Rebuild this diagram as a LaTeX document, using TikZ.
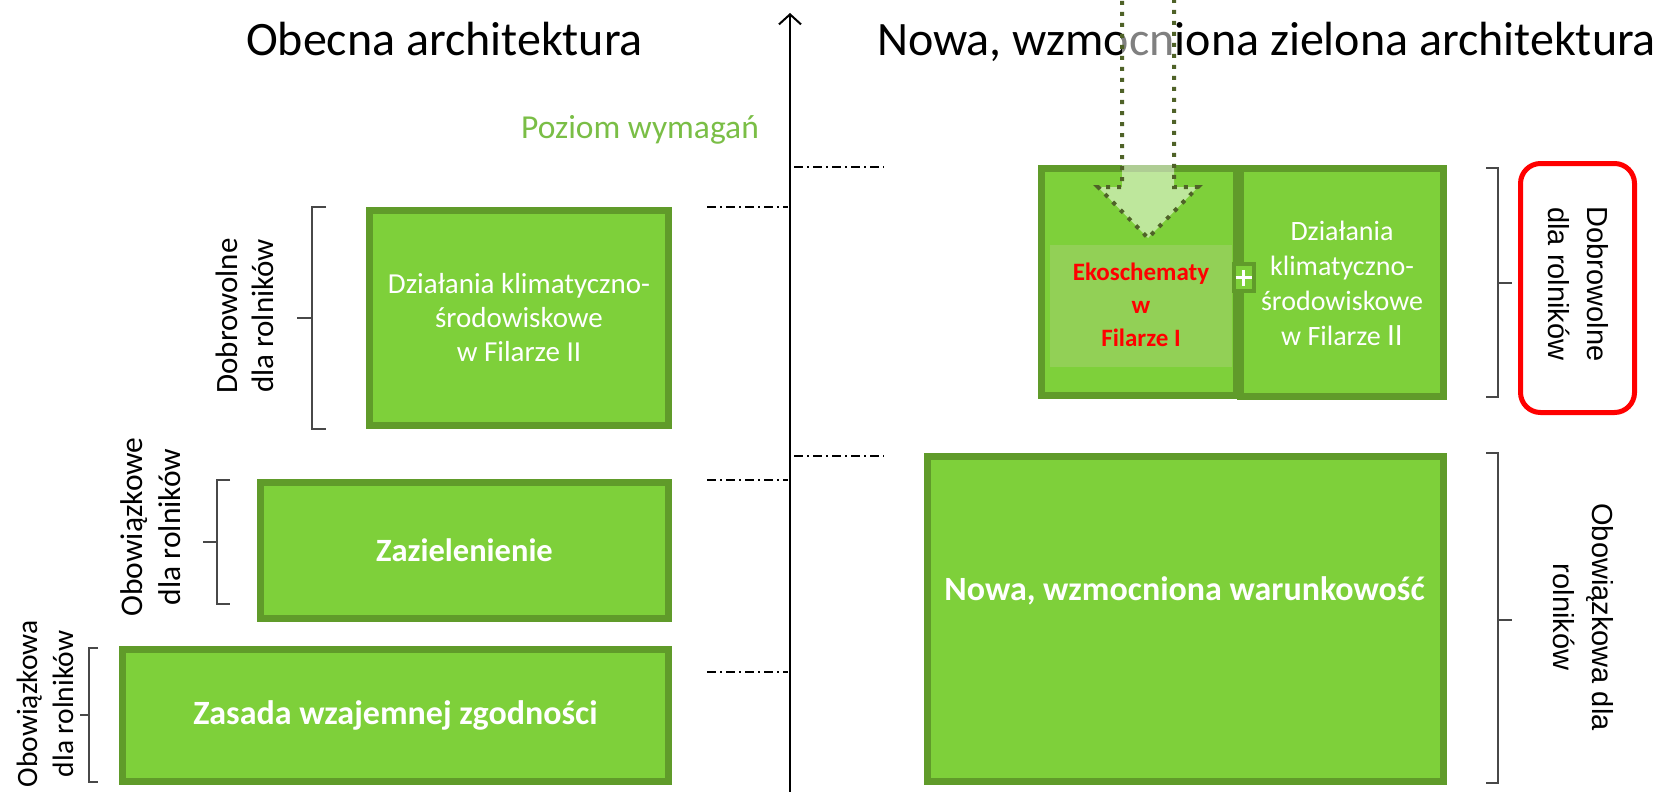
\documentclass[tikz,border=0pt]{standalone}
\usepackage{fontspec}
\setmainfont{Carlito}
\newfontfamily\arialf{Liberation Sans}
\usetikzlibrary{arrows.meta}
\definecolor{boxfill}{RGB}{126,208,58}
\definecolor{boxline}{RGB}{96,155,42}
\definecolor{innerfill}{RGB}{146,208,86}
\definecolor{arrowdot}{RGB}{79,98,40}
\definecolor{levelgreen}{RGB}{122,190,70}
\definecolor{bracketgray}{RGB}{72,72,72}
\newcommand\setfs[2]{\fontsize{#1}{#2}\selectfont}
\begin{document}
\begin{tikzpicture}[x=1pt,y=-1pt,
  greenbox/.style={draw=boxline, fill=boxfill, line width=7pt, inner sep=0pt, text=white, align=center},
  boxtext/.style={text=white, align=center, inner sep=0pt},
  title/.style={anchor=base, inner sep=0pt, font=\setfs{48}{56}},
  sidelabel/.style={align=center, inner sep=0pt},
  rightlabel/.style={align=center, inner sep=0pt, font=\arialf\setfs{29}{39}},
  bracket/.style={draw=bracketgray, line width=1.6pt},
  levelline/.style={draw=black, line width=1.4pt, dash pattern=on 9pt off 4pt on 2pt off 4pt},
  axis/.style={draw=black, line width=2pt, -{Straight Barb[length=10pt,width=22pt,line width=2pt]}},
  dotarrow/.style={draw=arrowdot, line width=4pt, dash pattern=on 4pt off 7pt, fill=white, fill opacity=0.5}
]
\useasboundingbox (0,0) rectangle (1666,792);
\clip (0,0) rectangle (1666,792);

% titles
\node[title] (t1) at (444.5,56) {Obecna architektura};
\node[title] (t2) at (1266.5,56) {Nowa, wzmocniona zielona architektura};
\node[anchor=base, inner sep=0pt, text=levelgreen, font=\setfs{33.5}{38}] (lvl) at (640,139) {Poziom wymagań};

% axis
\coordinate (axisbot) at (790,792);
\coordinate (axistop) at (790,13);
\draw[axis] (axisbot) -- (axistop);

% level lines
\coordinate (l1a) at (794,167); \coordinate (l1b) at (884,167);
\coordinate (l2a) at (707,207); \coordinate (l2b) at (788,207);
\coordinate (l3a) at (794,456); \coordinate (l3b) at (884,456);
\coordinate (l4a) at (707,480); \coordinate (l4b) at (788,480);
\coordinate (l5a) at (707,672); \coordinate (l5b) at (788,672);
\draw[levelline] (l1a) -- (l1b);
\draw[levelline] (l2a) -- (l2b);
\draw[levelline] (l3a) -- (l3b);
\draw[levelline] (l4a) -- (l4b);
\draw[levelline] (l5a) -- (l5b);

% left boxes
\node[greenbox, minimum width=299pt, minimum height=215pt] (b1) at (519,318) {};
\node[boxtext, font=\setfs{29}{34}] (b1t) at (519,318) {Działania klimatyczno-\\środowiskowe\\w Filarze II};
\node[greenbox, minimum width=408pt, minimum height=136pt, font=\bfseries\setfs{32.5}{38}] (b2) at (464.5,550.5) {Zazielenienie};
\node[greenbox, minimum width=546pt, minimum height=132pt, font=\bfseries\setfs{34}{40}] (b3) at (395.5,715.5) {Zasada wzajemnej zgodności};

% right boxes
\node[greenbox, minimum width=516pt, minimum height=325pt] (b4) at (1185.5,619) {};
\node[boxtext, font=\bfseries\setfs{34}{40}] (b4t) at (1184.5,591) {Nowa, wzmocniona warunkowość};
\node[greenbox, minimum width=195pt, minimum height=227pt] (b5) at (1139,281.5) {};
\node[greenbox, minimum width=203pt, minimum height=228pt] (b6) at (1342,282) {};
\node[boxtext, font=\setfs{28}{35}] (b6t) at (1342,283) {Działania\\klimatyczno-\\środowiskowe\\w Filarze {\setfs{31}{35}II}};
\node[fill=innerfill, inner sep=0pt, minimum width=182pt, minimum height=122pt] (inner) at (1141,306) {};
\node[align=center, inner sep=0pt, text=red, font=\bfseries\setfs{25}{33}] (eko) at (1141,305) {Ekoschematy\\w\\Filarze I};
\node[draw=boxline, fill=boxfill, line width=4pt, minimum width=20pt, minimum height=27pt, inner sep=0pt] (plus) at (1243.5,277.5) {};
\draw[white, line width=3.5pt] ([xshift=-8pt]plus.center) -- ([xshift=8pt]plus.center);
\draw[white, line width=3.5pt] ([yshift=-8pt]plus.center) -- ([yshift=8pt]plus.center);

% dotted arrow
\draw[dotarrow] (1122,-10) -- (1122,187) -- (1098,187) -- (1148,238) -- (1198,187) -- (1174,187) -- (1174,-10);

% left brackets and labels
\draw[bracket] (326,207) -- (312,207) -- (312,429) -- (326,429);
\draw[bracket] (297,318) -- (312,318);
\node[sidelabel, rotate=90, font=\setfs{31}{36}] (lab1) at (245,316) {Dobrowolne\\dla rolników};
\draw[bracket] (230,480) -- (217,480) -- (217,604) -- (230,604);
\draw[bracket] (203,542) -- (217,542);
\node[sidelabel, rotate=90, font=\setfs{31.5}{38}] (lab2) at (151,527) {Obowiązkowe\\dla rolników};
\draw[bracket] (98,648) -- (89,648) -- (89,782) -- (98,782);
\draw[bracket] (80,715) -- (89,715);
\node[sidelabel, rotate=90, font=\setfs{29.5}{36}] (lab3) at (45,704) {Obowiązkowa\\dla rolników};

% right brackets and labels
\draw[bracket] (1486,168) -- (1498,168) -- (1498,397) -- (1486,397);
\draw[bracket] (1498,283) -- (1512,283);
\draw[bracket] (1486,453) -- (1498,453) -- (1498,783) -- (1486,783);
\draw[bracket] (1498,620) -- (1512,620);
\node[draw=red, line width=5pt, rounded corners=20pt, minimum width=114pt, minimum height=249pt, inner sep=0pt] (redbox) at (1577.5,288) {};
\node[rightlabel, rotate=-90] (lab4) at (1578,284) {Dobrowolne\\dla rolników};
\node[rightlabel, rotate=-90] (lab5) at (1583,617) {Obowiązkowa dla\\rolników};
\end{tikzpicture}
\end{document}
